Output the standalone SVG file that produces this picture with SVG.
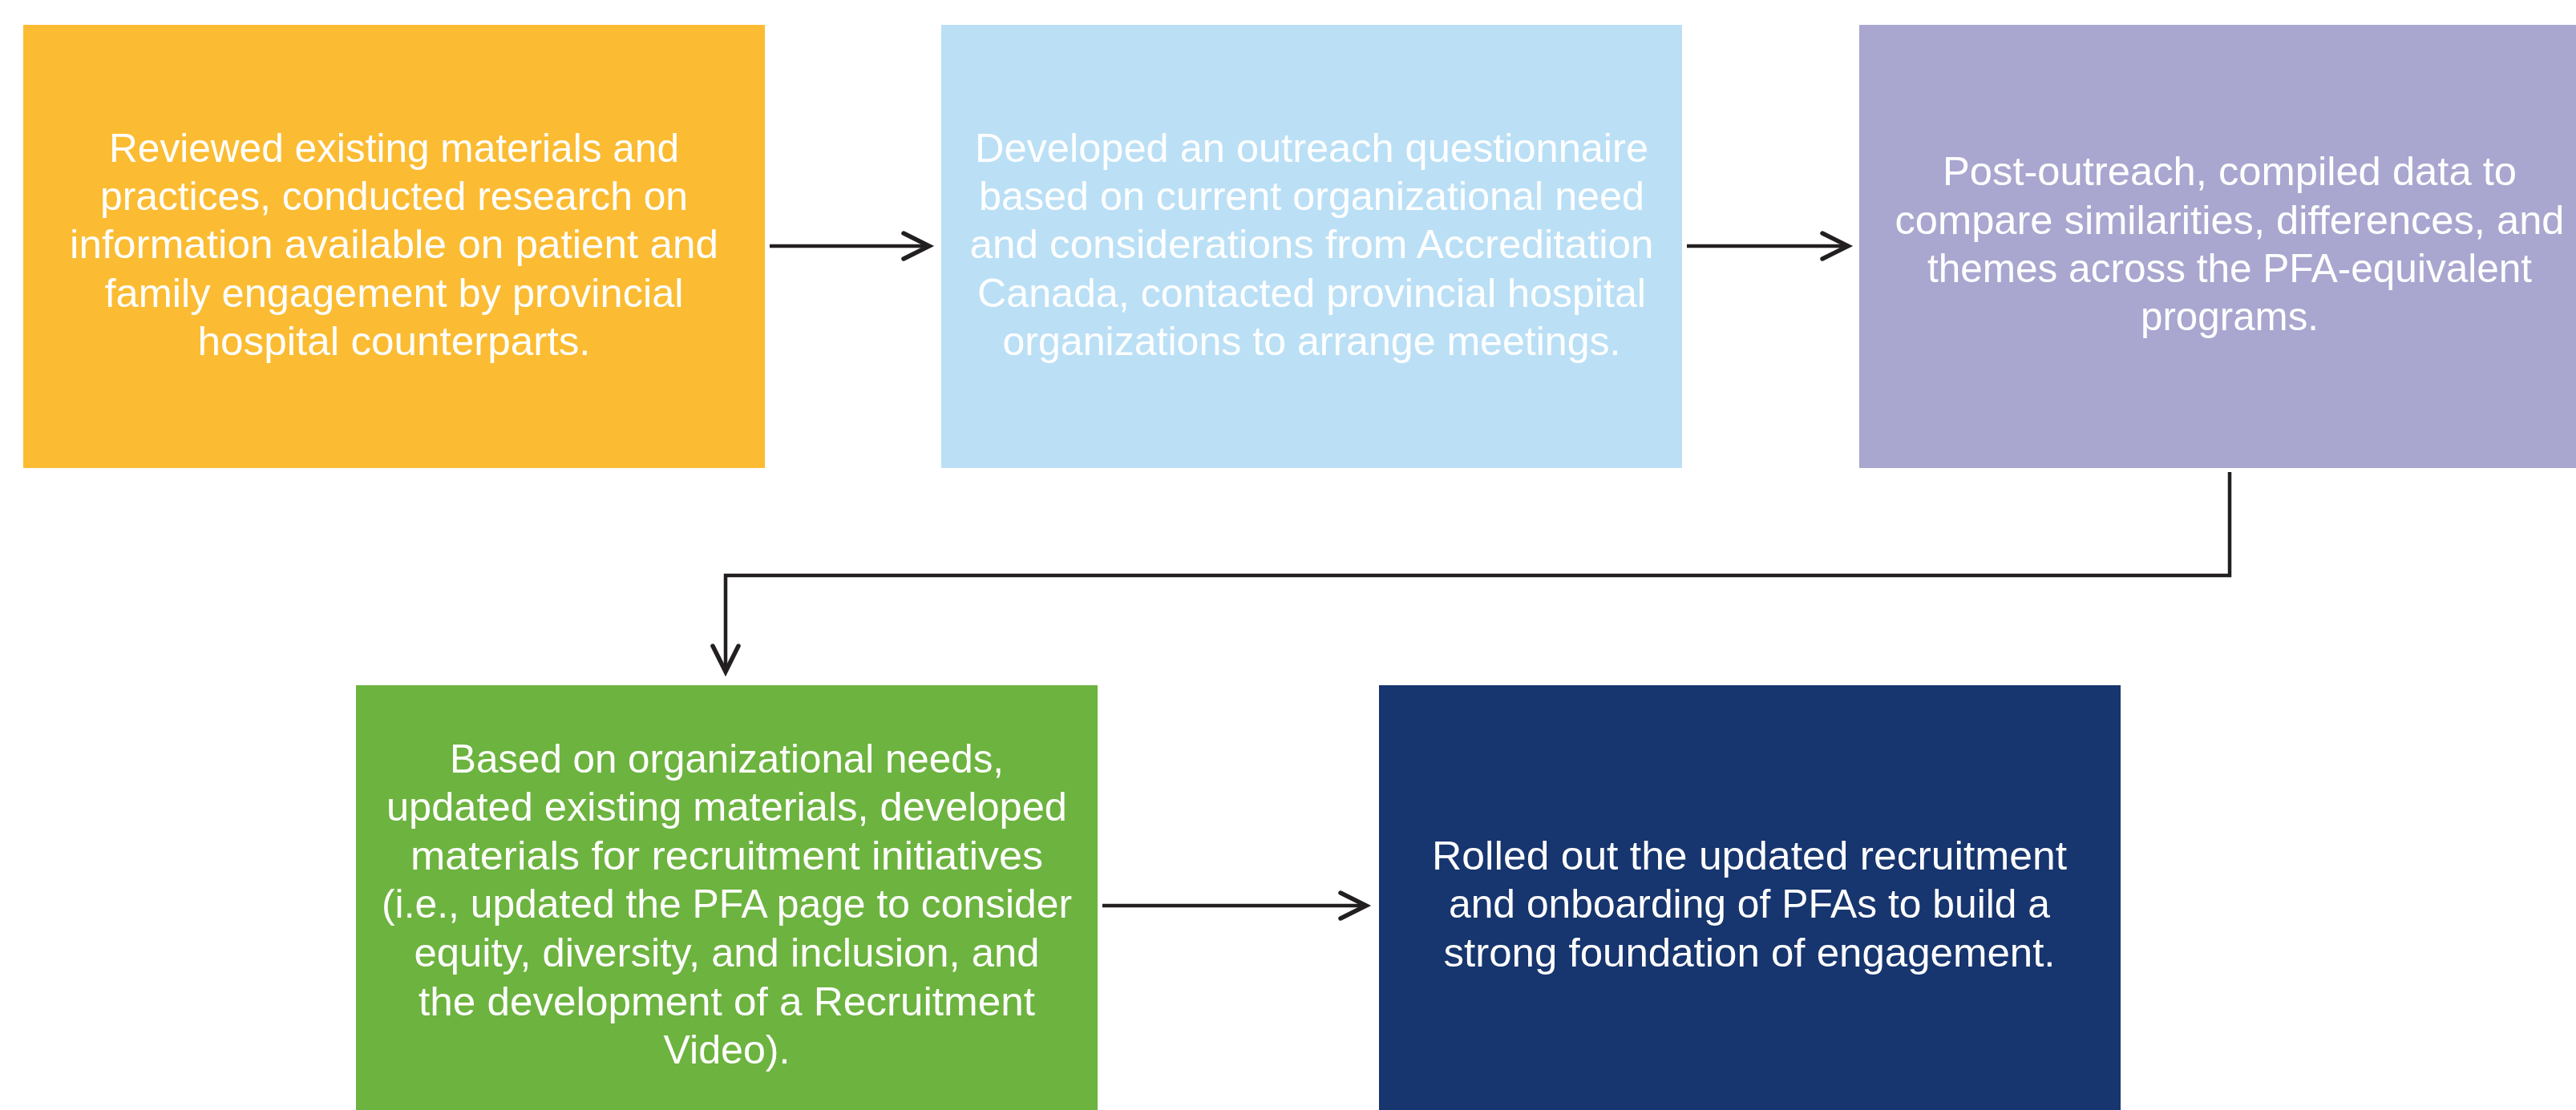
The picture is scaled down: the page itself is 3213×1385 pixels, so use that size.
<svg xmlns="http://www.w3.org/2000/svg" width="3213" height="1385" viewBox="0 0 3213 1385">
<style>
.t{font-family:"Liberation Sans",Arial,sans-serif;font-size:50px;fill:#ffffff;text-anchor:middle}
.c{fill:none;stroke:#231F20;stroke-width:4.5}
</style>
<defs>
<marker id="ah" markerUnits="userSpaceOnUse" markerWidth="50" markerHeight="50" viewBox="-40 -25 50 50" refX="0" refY="0" orient="auto">
<path d="M-32,-16 L0,0 L-32,16" fill="none" stroke="#231F20" stroke-width="5.5" stroke-linecap="round" stroke-linejoin="miter"/>
</marker>
</defs>
<rect width="3213" height="1385" fill="#ffffff"/>
<g id="connectors">
<path class="c" d="M960,307 H1159" marker-end="url(#ah)"/>
<path class="c" d="M2104,307 H2305" marker-end="url(#ah)"/>
<path class="c" d="M2781,589 V718 H905 V838" marker-end="url(#ah)"/>
<path class="c" d="M1375,1130 H1704" marker-end="url(#ah)"/>
</g>
<g id="node1">
<rect x="29" y="31" width="925" height="553" fill="#FBBC33"/>
<text class="t" x="491.5" y="202" textLength="711" lengthAdjust="spacingAndGlyphs">Reviewed existing materials and</text>
<text class="t" x="491.5" y="262" textLength="733" lengthAdjust="spacingAndGlyphs">practices, conducted research on</text>
<text class="t" x="491.5" y="322" textLength="809" lengthAdjust="spacingAndGlyphs">information available on patient and</text>
<text class="t" x="491.5" y="383" textLength="722" lengthAdjust="spacingAndGlyphs">family engagement by provincial</text>
<text class="t" x="491.5" y="443" textLength="490" lengthAdjust="spacingAndGlyphs">hospital counterparts.</text>
</g>
<g id="node2">
<rect x="1174" y="31" width="924" height="553" fill="#BBE0F6"/>
<text class="t" x="1636" y="202" textLength="840" lengthAdjust="spacingAndGlyphs">Developed an outreach questionnaire</text>
<text class="t" x="1636" y="262" textLength="830" lengthAdjust="spacingAndGlyphs">based on current organizational need</text>
<text class="t" x="1636" y="322" textLength="853" lengthAdjust="spacingAndGlyphs">and considerations from Accreditation</text>
<text class="t" x="1636" y="383" textLength="834" lengthAdjust="spacingAndGlyphs">Canada, contacted provincial hospital</text>
<text class="t" x="1636" y="443" textLength="771" lengthAdjust="spacingAndGlyphs">organizations to arrange meetings.</text>
</g>
<g id="node3">
<rect x="2319" y="31" width="924" height="553" fill="#A9A7D0"/>
<text class="t" x="2781" y="231" textLength="716" lengthAdjust="spacingAndGlyphs">Post-outreach, compiled data to</text>
<text class="t" x="2781" y="292" textLength="835" lengthAdjust="spacingAndGlyphs">compare similarities, differences, and</text>
<text class="t" x="2781" y="352" textLength="754" lengthAdjust="spacingAndGlyphs">themes across the PFA-equivalent</text>
<text class="t" x="2781" y="412" textLength="222" lengthAdjust="spacingAndGlyphs">programs.</text>
</g>
<g id="node4">
<rect x="444" y="855" width="925" height="540" fill="#6DB33F"/>
<text class="t" x="906.5" y="964" textLength="691" lengthAdjust="spacingAndGlyphs">Based on organizational needs,</text>
<text class="t" x="906.5" y="1024" textLength="849" lengthAdjust="spacingAndGlyphs">updated existing materials, developed</text>
<text class="t" x="906.5" y="1085" textLength="789" lengthAdjust="spacingAndGlyphs">materials for recruitment initiatives</text>
<text class="t" x="906.5" y="1145" textLength="861" lengthAdjust="spacingAndGlyphs">(i.e., updated the PFA page to consider</text>
<text class="t" x="906.5" y="1206" textLength="780" lengthAdjust="spacingAndGlyphs">equity, diversity, and inclusion, and</text>
<text class="t" x="906.5" y="1267" textLength="769" lengthAdjust="spacingAndGlyphs">the development of a Recruitment</text>
<text class="t" x="906.5" y="1327" textLength="158" lengthAdjust="spacingAndGlyphs">Video).</text>
</g>
<g id="node5">
<rect x="1720" y="855" width="925" height="540" fill="#17356E"/>
<text class="t" x="2182" y="1085" textLength="792" lengthAdjust="spacingAndGlyphs">Rolled out the updated recruitment</text>
<text class="t" x="2182" y="1145" textLength="750" lengthAdjust="spacingAndGlyphs">and onboarding of PFAs to build a</text>
<text class="t" x="2182" y="1206" textLength="763" lengthAdjust="spacingAndGlyphs">strong foundation of engagement.</text>
</g>
</svg>
